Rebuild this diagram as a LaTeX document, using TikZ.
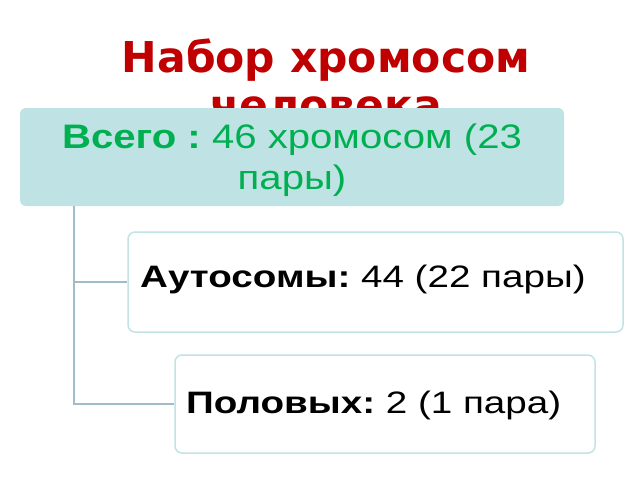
\documentclass[tikz,border=0pt]{standalone}
\usepackage{fontspec}
\setmainfont{Liberation Sans}
\newfontfamily\titlefont{DejaVu Sans}
\newfontfamily\topfont{Liberation Sans}[FakeStretch=1.18]
\newfontfamily\subfont{Liberation Sans}[FakeStretch=1.245]
\definecolor{titlered}{HTML}{C00000}
\definecolor{txtgreen}{HTML}{00B050}
\definecolor{topfill}{HTML}{BFE2E4}
\definecolor{boxline}{HTML}{C2E3E6}
\definecolor{connline}{HTML}{A0BCC4}
\frenchspacing
\tikzset{
  titletext/.style={font=\titlefont\bfseries\fontsize{42.5}{48}\selectfont, text=titlered, align=center, inner sep=0pt},
  topbox/.style={rectangle, rounded corners=6pt, fill=topfill, draw=none, inner sep=0pt},
  toptext/.style={font=\topfont\fontsize{34}{41}\selectfont, text=txtgreen, align=center, inner sep=0pt},
  subbox/.style={rectangle, rounded corners=7pt, fill=white, draw=boxline, line width=1.5pt, inner sep=0pt},
  subtext/.style={font=\subfont\fontsize{31}{36}\selectfont, text=black, inner sep=0pt},
  conn/.style={draw=connline, line width=1.5pt}
}
\begin{document}
\begin{tikzpicture}[x=1pt,y=-1pt]
\useasboundingbox (0,0) rectangle (640,480);
\fill[white] (0,0) rectangle (640,480);
\node[titletext, anchor=base] (title) at (326,120) {Набор хромосом\\человека};
\node[topbox, minimum width=544pt, minimum height=98pt] (top) at (292,157) {};
\node[toptext, anchor=base] (toplabel) at (292,189) {\textbf{Всего :} 46 хромосом (23\\пары)};
\node[subbox, minimum width=495pt, minimum height=100pt] (auto) at (375.5,282) {};
\node[subtext, anchor=base west] (autolabel) at (140,287) {\textbf{Аутосомы:} 44 (22 пары)};
\node[subbox, minimum width=420pt, minimum height=98pt] (sex) at (385,404) {};
\node[subtext, anchor=base west] (sexlabel) at (186,413) {\textbf{Половых:} 2 (1 пара)};
\coordinate (trunk) at ([xshift=54pt]top.south west);
\draw[conn] (trunk) |- (auto.west);
\draw[conn] (trunk) |- (sex.west);
\end{tikzpicture}
\end{document}
